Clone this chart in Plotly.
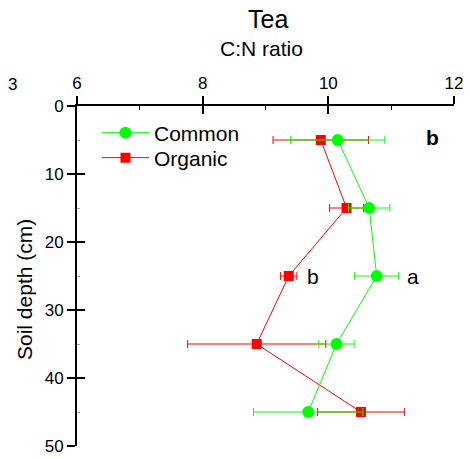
import plotly.graph_objects as go

# Soil depth (cm) of each sampling layer
depth = [5, 15, 25, 35, 45]

# C:N ratio of tea soil, mean and error per layer
common = [10.15, 10.65, 10.77, 10.13, 9.68]
common_err = [0.75, 0.33, 0.35, 0.28, 0.87]
organic = [9.88, 10.29, 9.37, 8.86, 10.52]
organic_err = [0.76, 0.27, 0.13, 1.10, 0.69]

x_ticks = [6, 8, 10, 12]
y_ticks = [0, 10, 20, 30, 40, 50]

FONT = "Arial, Liberation Sans, sans-serif"
GREEN = "#00ff00"
RED = "#ff0000"

W, H = 470, 459
L, R, T, B = 77, 16, 106, 13
PW, PH = W - L - R, H - T - B


def px_x(px):
    """Horizontal pixel position -> paper fraction."""
    return (px - L) / PW


def px_y(py):
    """Vertical pixel position (from top) -> paper fraction."""
    return (H - B - py) / PH


fig = go.Figure()

fig.add_trace(go.Scatter(
    x=organic, y=depth, name="Organic", mode="lines+markers",
    line=dict(color=RED, width=1),
    marker=dict(symbol="square", size=10, color=RED),
    error_x=dict(type="data", array=organic_err, color=RED, thickness=1, width=4),
    legend="legend2",
))
fig.add_trace(go.Scatter(
    x=common, y=depth, name="Common", mode="lines+markers",
    line=dict(color=GREEN, width=1),
    marker=dict(symbol="circle", size=12, color=GREEN),
    error_x=dict(type="data", array=common_err, color=GREEN, thickness=1, width=4),
    legend="legend",
))
# empty trace that carries the mirrored axes (inner halves of the ticks)
fig.add_trace(go.Scatter(x=[], y=[], xaxis="x2", yaxis="y2", showlegend=False,
                         hoverinfo="skip"))

axis_common = dict(showgrid=False, zeroline=False, showline=True,
                   linecolor="black", linewidth=2, tickcolor="black",
                   tickwidth=2, ticklen=8, automargin=False)

legend_style = dict(xanchor="left", yanchor="middle", bgcolor="rgba(0,0,0,0)",
                    font=dict(size=21), itemsizing="trace", itemwidth=47)

fig.update_layout(
    width=W, height=H,
    margin=dict(l=L, r=R, t=T, b=B, autoexpand=False),
    paper_bgcolor="white", plot_bgcolor="white",
    font=dict(family=FONT, color="black", size=17),
    showlegend=True,
    legend=dict(x=px_x(97), y=px_y(133), **legend_style),
    legend2=dict(x=px_x(97), y=px_y(158), **legend_style),
    xaxis=dict(range=[6, 12], side="top", tickvals=x_ticks, ticks="outside",
               minor=dict(tickvals=[7, 9, 11], ticks="inside", ticklen=4,
                          tickcolor="black", tickwidth=1),
               tickfont=dict(size=17), **axis_common),
    yaxis=dict(range=[50, 0], tickvals=y_ticks, ticks="outside",
               minor=dict(tickvals=[5, 15, 25, 35, 45], ticks="inside",
                          ticklen=3, tickcolor="#aaaaaa", tickwidth=1),
               tickfont=dict(size=17), **axis_common),
    xaxis2=dict(range=[6, 12], side="top", overlaying="x", tickvals=x_ticks,
                ticks="inside", showticklabels=False, **axis_common),
    yaxis2=dict(range=[50, 0], overlaying="y", tickvals=y_ticks,
                ticks="inside", showticklabels=False, **axis_common),
)

annotations = [
    # titles
    dict(text="Tea", x=px_x(268), y=px_y(19), xref="paper", yref="paper",
         yanchor="middle", font=dict(size=25)),
    dict(text="C:N ratio", x=px_x(261), y=px_y(49), xref="paper", yref="paper",
         yanchor="middle", font=dict(size=21)),
    dict(text="Soil depth (cm)", x=px_x(24), y=px_y(290), xref="paper",
         yref="paper", textangle=-90, xanchor="center", yanchor="middle",
         font=dict(size=21)),
    dict(text="3", x=px_x(6), y=px_y(84), xref="paper", yref="paper",
         yanchor="middle", font=dict(size=17)),
    # significance letters
    dict(text="<b>b</b>", x=11.66, y=4.6, xref="x", yref="y",
         font=dict(size=21)),
    dict(text="b", x=organic[2] + 0.26, y=depth[2], xref="x", yref="y",
         xanchor="left", font=dict(size=21)),
    dict(text="a", x=common[2] + 0.45, y=depth[2], xref="x", yref="y",
         xanchor="left", font=dict(size=21)),
]
for a in annotations:
    a["showarrow"] = False
fig.update_layout(annotations=annotations)

fig.write_html("out.html")
